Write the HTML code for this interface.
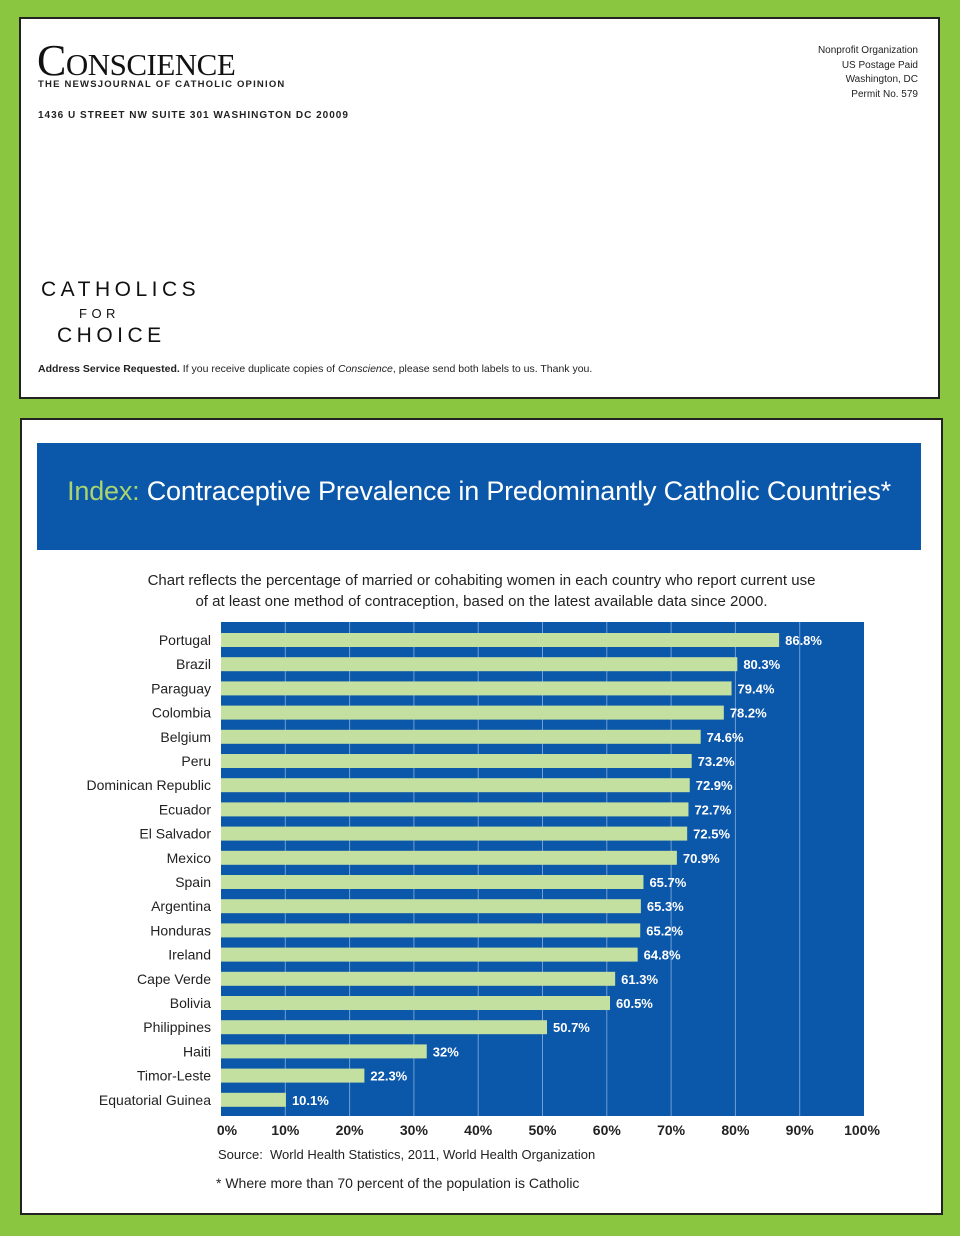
<!DOCTYPE html>
<html><head><meta charset="utf-8"><style>
body{margin:0;width:960px;height:1236px;background:#8bc640;position:relative;font-family:"Liberation Sans",sans-serif;overflow:hidden}
.panel{position:absolute;background:#fff;border:2px solid #222}
.abs{position:absolute;white-space:nowrap}
</style></head><body>
<div class="panel" style="left:19px;top:17px;width:917px;height:378px">
  <div class="abs" style="left:16px;top:16px;font-family:'Liberation Serif',serif;font-size:44px;color:#111;font-variant:small-caps;letter-spacing:-0.5px">Conscience</div>
  <div class="abs" style="left:17px;top:60px;font-size:9.5px;font-weight:bold;letter-spacing:1.2px;color:#222">THE NEWSJOURNAL OF CATHOLIC OPINION</div>
  <div class="abs" style="left:17px;top:91px;font-size:10px;font-weight:bold;letter-spacing:1px;color:#222">1436 U STREET NW SUITE 301 WASHINGTON DC 20009</div>
  <div class="abs" style="right:20px;top:25px;font-size:10px;line-height:14.5px;text-align:right;color:#222">Nonprofit Organization<br>US Postage Paid<br>Washington, DC<br>Permit No. 579</div>
  <div class="abs" style="left:20px;top:260px;font-size:21px;letter-spacing:4.5px;color:#111;line-height:22px">CATHOLICS<br><span style="font-size:13px;padding-left:38px">FOR</span><br><span style="padding-left:16px">CHOICE</span></div>
  <div class="abs" style="left:17px;top:344px;font-size:10.5px;color:#222"><b>Address Service Requested.</b> If you receive duplicate copies of <i>Conscience</i>, please send both labels to us. Thank you.</div>
</div>
<div class="panel" style="left:20px;top:418px;width:919px;height:793px">
  <div class="abs" style="left:15px;top:23px;width:884px;height:107px;background:#0b57a9"></div>
  <div class="abs" style="left:15px;top:56px;width:884px;text-align:center;font-size:27px;letter-spacing:-0.2px;color:#fff"><span style="color:#a9d46f">Index:</span> Contraceptive Prevalence in Predominantly Catholic Countries*</div>
  <div class="abs" style="left:0;top:150px;width:919px;text-align:center;font-size:15px;line-height:21px;color:#222">Chart reflects the percentage of married or cohabiting women in each country who report current use<br>of at least one method of contraception, based on the latest available data since 2000.</div>
</div>
<svg id="chart" width="960" height="1236" style="position:absolute;left:0;top:0"></svg>
<div class="abs" style="left:218px;top:1147px;font-size:13px;color:#222">Source:&nbsp; World Health Statistics, 2011, World Health Organization</div>
<div class="abs" style="left:216px;top:1175px;font-size:14px;color:#222">* Where more than 70 percent of the population is Catholic</div>
<script>
const countries=["Portugal","Brazil","Paraguay","Colombia","Belgium","Peru","Dominican Republic","Ecuador","El Salvador","Mexico","Spain","Argentina","Honduras","Ireland","Cape Verde","Bolivia","Philippines","Haiti","Timor-Leste","Equatorial Guinea"];
const values=[86.8,80.3,79.4,78.2,74.6,73.2,72.9,72.7,72.5,70.9,65.7,65.3,65.2,64.8,61.3,60.5,50.7,32,22.3,10.1];
const valueLabels=["86.8%","80.3%","79.4%","78.2%","74.6%","73.2%","72.9%","72.7%","72.5%","70.9%","65.7%","65.3%","65.2%","64.8%","61.3%","60.5%","50.7%","32%","22.3%","10.1%"];
const ticks=[0,10,20,30,40,50,60,70,80,90,100];
const tickLabels=["0%","10%","20%","30%","40%","50%","60%","70%","80%","90%","100%"];
const NS="http://www.w3.org/2000/svg",svg=document.getElementById('chart');
const X0=221,X1=864,Y0=622,Y1=1116;
const x=v=>X0+(X1-X0)*v/100;
const yc=i=>Y0+18+i*24.2;
function el(t,a){const e=document.createElementNS(NS,t);for(const k in a)e.setAttribute(k,a[k]);svg.appendChild(e);return e;}
const bg=el('rect',{x:X0,y:Y0,width:X1-X0,height:Y1-Y0,fill:'#0b57a9'});


ticks.forEach((t,i)=>{
  if(t>0&&t<100){const g=el('line',{x1:x(t),x2:x(t),y1:Y0,y2:Y1,stroke:'#6f9fd4','stroke-width':1});
  
  }
  const tl=el('text',{x:x(t)+(t==0?6:t==100?-2:0),y:1135,'text-anchor':'middle','font-size':14,'font-weight':'bold',fill:'#222','font-family':'Liberation Sans, sans-serif'});
  tl.textContent=tickLabels[i];
  
  
});
countries.forEach((c,i)=>{
  const y=yc(i);
  const b=el('rect',{x:X0,y:y-7,width:x(values[i])-X0,height:14,fill:'#c4e0a0'});
  
  
  const v=el('text',{x:x(values[i])+6,y:y+5,'font-size':13,'font-weight':'bold',fill:'#fff','font-family':'Liberation Sans, sans-serif'});
  v.textContent=valueLabels[i];
  
  
  const l=el('text',{x:211,y:y+5,'text-anchor':'end','font-size':14,fill:'#222','font-family':'Liberation Sans, sans-serif'});
  l.textContent=c;
  
  
});
</script>
</body></html>
